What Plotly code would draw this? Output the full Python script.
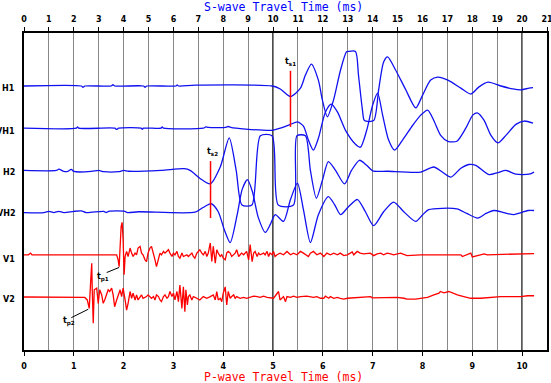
import numpy as np
import plotly.graph_objects as go

# ---------------- data (times in ms, amplitudes in display units) ----------------
# Blue traces: S-wave time axis (top)
H1_t = [0, 2.3, 2.37, 2.45, 3.5, 3.57, 3.65, 4.8, 4.86, 4.93, 6.1, 6.15, 6.2, 6.87, 9.97, 10.29, 10.70,
        11.10, 11.30, 11.54, 11.82, 11.98, 12.18, 12.43, 12.71, 12.95, 13.03, 13.31, 13.43, 13.59, 13.67,
        14.04, 14.24, 14.44, 14.60, 14.92, 15.33, 15.73, 16.01, 16.33, 16.61, 17.02, 17.54, 17.94, 18.27,
        18.63, 19.15, 19.63, 19.96, 20.28, 20.44]
H1_a = [0, 0, -0.3, 0, 0, 0.3, 0, 0, -0.3, 0, 0, 0.25, 0, 0.2, 0, -0.7, -2.5,
        -0.5, 2.6, 5.2, 1.4, -3.3, -7.3, -3.3, 3.8, 8.1, 8.2, 8.2, 2.6, -5.7, -8.2,
        -8.2, -0.9, 5.7, 6.9, 3.8, -0.9, -5.2, -2.1, 1.4, 2.1, 1.4, -0.5, -1.9, -0.2,
        0.9, 0, -0.7, -0.9, -0.5, -0.4]

VH1_t = [0, 2.1, 2.15, 2.2, 3.65, 3.72, 3.8, 4.7, 4.75, 4.8, 5.5, 5.55, 5.6, 7.2, 7.3, 7.4, 8.1, 8.2, 8.3,
         8.9, 9.97, 10.29, 10.70, 10.98, 11.22, 11.42, 11.62, 11.82, 12.10, 12.34, 12.59, 12.91, 13.31,
         13.51, 13.76, 14.00, 14.20, 14.40, 14.64, 14.88, 15.20, 15.61, 15.93, 16.21, 16.45, 16.73, 17.02,
         17.38, 17.74, 18.02, 18.22, 18.47, 18.75, 19.03, 19.35, 19.75, 20.08, 20.44]
VH1_a = [0, 0, 0.3, 0, 0, -0.3, 0, 0, -0.3, 0, 0, 0.3, 0, 0, 0.3, 0.2, 0.2, 0.4, 0.2,
         -0.2, -0.5, 0, 0.9, 1.5, 0.5, -2.8, -5.2, -2.4, 3.8, 5.7, 3.8, -0.5, -3.8,
         -4.5, -0.5, 5.5, 8.3, 3.1, -2.8, -5.2, -2.8, 0.7, 3.1, 4.3, 1.9, -1.7, -3.1,
         -3.1, 0, 3.1, 3.6, 1.9, -1.7, -3.5, -1.7, 0.9, 1.7, 1.2]

H2_t = [0, 1.3, 1.4, 1.6, 1.75, 1.9, 2.0, 2.7, 3.0, 3.2, 3.8, 4.0, 4.2, 5.5, 6.43, 6.67, 7.07, 7.48, 7.88,
        8.24, 8.52, 8.75, 9.15, 9.49, 9.96, 10.21, 10.82, 10.96, 11.30, 11.50, 11.74, 11.98, 12.22, 12.51,
        12.87, 13.15, 13.47, 13.76, 14.00, 14.60, 15.93, 16.45, 16.82, 17.14, 17.54, 17.86, 18.14, 18.67,
        19.03, 19.35, 19.75, 20.28, 20.48]
H2_a = [0, 0, 0.3, -0.25, -0.25, 0.25, -0.25, -0.25, 0, -0.3, -0.3, 0, -0.2, 0, 0.4, 0, -1.9, -3.2, 0.8,
        7.7, 0, -8.2, -8.2, 8.2, 8.2, -8.2, -8.2, 8.2, 8.2, 0, -6.6, -2.4, 2.1, 0,
        -3.2, 0, 2.4, 1.2, -0.1, -0.2, -0.4, 0.8, -0.5, -1.6, 0.5, 1.4, 1.2, -1.0,
        -0.5, 0, -0.9, -0.9, -0.4]

VH2_t = [0, 0.8, 1.0, 1.2, 1.4, 1.6, 2.0, 2.3, 2.5, 3.2, 3.3, 3.4, 4.05, 4.15, 4.6, 6.87, 7.19, 7.52,
         7.80, 8.04, 8.28, 8.56, 8.76, 8.97, 9.17, 9.41, 9.69, 9.89, 10.09, 10.42, 10.70, 10.98, 11.22,
         11.50, 11.82, 12.22, 12.47, 12.71, 13.03, 13.39, 13.71, 14.04, 14.44, 14.84, 15.25, 15.73, 16.01,
         16.25, 17.38, 17.78, 18.22, 18.55, 18.87, 19.27, 19.67, 19.96, 20.24, 20.48]
VH2_a = [0, 0, 0.3, 0, 0.3, 0, 0.3, 0.4, 0, 0.3, 0, 0.3, 0.3, 0, 0.2, 0.1, 1.2, 2.1,
         0.2, -4.0, -7.1, -0.5, 5.5, 7.8, 5.0, -1.2, -4.7, -2.8, -0.5, -2.1, 3.1, 7.0, 0.7,
         -7.1, -0.5, 3.8, 1.9, -0.5, 1.4, 3.1, 0.2, -3.1, 0.2, 2.5, 0.2, -2.1, -0.5,
         0.7, 0.9, -0.2, -1.3, -0.2, 0.5, 0, -0.5, 0, 0.5, 0.5]

# Red traces: P-wave time axis (bottom)
V1_t = [0, 0.09, 0.13, 0.16, 1.825, 1.86, 1.89, 1.91, 1.95, 1.97, 1.99, 2.01, 2.03, 2.06, 2.09, 2.13, 2.16,
        2.19, 2.23, 2.26, 2.29, 2.33, 2.36, 2.39, 2.43, 2.46, 2.49, 2.53, 2.56, 2.60, 2.63, 2.66, 2.70,
        2.73, 2.76, 2.80, 2.83, 2.87, 2.90, 2.93, 2.97, 3.00, 3.03, 3.07, 3.10, 3.13, 3.17, 3.20, 3.23,
        3.27, 3.30, 3.33, 3.37, 3.40, 3.43, 3.47, 3.50, 3.53, 3.57, 3.60, 3.64, 3.67, 3.70, 3.74, 3.77,
        3.80, 3.84, 3.87, 3.90, 3.94, 3.97, 4.00, 4.04, 4.07, 4.10, 4.14, 4.17, 4.21, 4.24, 4.27, 4.31,
        4.34, 4.37, 4.41, 4.47, 4.51, 4.54, 4.58, 4.61, 4.64, 4.68, 4.71, 4.74, 4.81, 4.84, 4.88, 4.91,
        4.94, 4.98, 5.01, 5.04, 5.08, 5.14, 5.21, 5.28, 5.35, 5.41, 5.48, 5.55, 5.61, 5.65, 5.71, 5.75,
        5.81, 5.88, 5.95, 6.02, 6.08, 6.15, 6.22, 6.29, 6.35, 6.42, 6.49, 6.55, 6.59, 6.62, 6.69, 6.75,
        6.82, 6.95, 7.02, 7.09, 7.16, 7.22, 7.29, 7.36, 7.42, 7.56, 7.63, 7.69, 7.96, 8.77, 8.80, 8.97,
        9.00, 9.10, 9.24, 9.30, 9.71, 9.91, 9.97, 10.24]
V1_a = [0, 0, 0.4, 0, 0, 0, -1.2, -2.8, 6.7, 7.7, 3.6, -4.7, -0.4, 0.8, -0.4, 1.6, 0.4,
        -0.4, 0.4, 0, 1.6, 2.0, 0.4, 0, -1.2, -1.6, 0.4, 1.6, 2.0, 0.4, -1.2, -2.8, -0.8,
        0.4, 0, 0.8, 0.4, 0.8, 1.2, 0.4, -0.4, 0.4, 0, 0.8, -0.4, -0.8, 0.4, -0.4, -0.2,
        0, -0.4, 0, 0.4, -0.4, -0.8, 0.4, 0.8, 1.2, 0.4, 0, 0.8, -0.4, 0.4, 2.8, -1.6,
        2.0, -2.0, 1.2, 0.4, -0.4, 0, -0.8, -1.2, 0.4, 0.8, 0.4, -0.4, 0, 0.4, 1.2, -0.4,
        0, 0.4, 0, 0.8, -1.2, 2.4, -1.6, 0.4, 0.8, -0.4, 0.4, 0, 0.4, 0, 0.8, -0.4,
        0.4, 0, 0.8, -0.4, 0, 0.4, 0, 0.8, 0, 0.4, 0, 0.8, 0.4, 0, -0.4, 0.4,
        0.8, 0, 0.4, -0.4, 0.4, 0, 0.4, 0, 0.4, -0.2, 0, 0.4, 0.7, 0, 0.8, 0.4,
        0.2, 0.4, -0.2, 0.2, 0.4, 0, 0.4, 0.2, 0, 0.4, 0, -0.2, 0, 0, -0.4, 0.4,
        -0.5, -0.2, 0.2, 0, 0.2, 0.2, 0.3, 0.3]

V2_t = [0, 1.22, 1.27, 1.31, 1.34, 1.36, 1.37, 1.39, 1.41, 1.46, 1.49, 1.52, 1.56, 1.59, 1.62, 1.66, 1.69,
        1.72, 1.76, 1.79, 1.82, 1.86, 1.89, 1.93, 1.96, 1.99, 2.03, 2.06, 2.09, 2.13, 2.16, 2.19, 2.23,
        2.26, 2.29, 2.33, 2.36, 2.39, 2.46, 2.49, 2.53, 2.56, 2.60, 2.63, 2.66, 2.70, 2.73, 2.76, 2.80,
        2.83, 2.87, 2.90, 2.93, 2.97, 3.00, 3.03, 3.07, 3.10, 3.13, 3.17, 3.20, 3.23, 3.25, 3.28, 3.30,
        3.33, 3.37, 3.40, 3.47, 3.53, 3.60, 3.67, 3.74, 3.80, 3.84, 3.87, 3.90, 3.94, 3.97, 4.00, 4.04,
        4.07, 4.10, 4.14, 4.17, 4.21, 4.24, 4.27, 4.34, 4.41, 4.47, 4.54, 4.61, 4.68, 4.74, 4.81, 4.88,
        5.01, 5.11, 5.14, 5.18, 5.21, 5.25, 5.28, 5.35, 5.41, 5.48, 5.55, 5.68, 5.81, 5.88, 5.95, 6.02,
        6.05, 6.12, 6.15, 6.22, 6.29, 6.35, 6.42, 6.49, 6.69, 6.96, 6.99, 7.29, 7.49, 7.63, 7.69, 7.86,
        7.96, 8.10, 8.23, 8.33, 8.36, 8.43, 8.53, 8.60, 8.70, 8.83, 8.97, 9.17, 9.27, 9.44, 9.57, 9.97,
        10.11, 10.24]
V2_a = [0, -0.1, -0.7, -2.7, 4.0, 8.0, 1.7, -6.2, 1.7, 2.1, -1.5, 1.7, 0.5, -1.5, -0.7, 0.9, 1.7,
        1.3, 2.1, 0.5, -2.3, -0.7, 0.5, 1.7, 0.1, 2.1, -0.7, -3.1, -1.5, 1.3, -0.3, 0.9, -0.7,
        0.5, -0.7, 0.1, 0.5, -0.3, 0.1, 0.5, 0.1, -0.3, 0.1, -0.7, 0.5, 0.1, -0.7, -1.1, 0.1,
        0.5, -0.3, 0.1, 1.3, 0.1, 0.9, -0.7, 1.3, -1.1, 2.8, -2.7, 2.4, -3.5, 1.7, -1.9, 0.1,
        0.5, -0.7, 0.1, -0.3, -0.7, 0.1, -0.3, 0.1, 0.5, -0.7, 1.3, -0.7, -0.3, -1.1, 0.9, 2.4,
        -1.9, 1.3, -0.3, 0.1, 0.5, -0.3, 0.1, -0.3, -0.1, -0.3, -0.1, 0.2, 0.1, -0.1, 0.2, -0.1,
        -0.3, 1.3, -0.7, -0.3, 0.1, -1.1, 0.1, -0.1, 0.2, -0.1, 0.1, 0.2, -0.1, 0.1, -0.3, -0.3,
        0.2, -0.3, 0.1, -0.3, -0.1, -0.3, -0.5, -0.3, -0.1, 0.1, -0.2, -0.1, -0.1, -0.3, -0.5, -0.5,
        -0.3, -0.1, 0.5, 0.9, 1.3, 1.0, 1.3, 0.9, 0.5, 0.1, -0.3, -0.3, -0.2, -0.1, 0.1, 0.1,
        0.3, 0.3]

TRACE_NAMES = ["H1", "VH1", "H2", "VH2", "V1", "V2"]
S_TICKS = list(range(0, 22))
P_TICKS = list(range(0, 11))

# ---------------- styling ----------------
BLUE = "#1010F0"
RED = "#FF0000"
GAIN = 0.1
OFFSETS = {"H1": 6, "VH1": 5, "H2": 4, "VH2": 3, "V1": 2, "V2": 1}
YR = [-0.256, 7.256]
TICKFONT = dict(family="DejaVu Sans", size=8, color="black", weight="bold")

fig = go.Figure()
blue = {"H1": (H1_t, H1_a), "VH1": (VH1_t, VH1_a), "H2": (H2_t, H2_a), "VH2": (VH2_t, VH2_a)}
red = {"V1": (V1_t, V1_a), "V2": (V2_t, V2_a)}

for name, (t, a) in blue.items():
    fig.add_trace(go.Scatter(x=t, y=OFFSETS[name] + GAIN * np.array(a), xaxis="x2", yaxis="y",
                             mode="lines", line=dict(color=BLUE, width=1.3, shape="spline", smoothing=0.7),
                             showlegend=False, hoverinfo="skip"))
for name, (t, a) in red.items():
    fig.add_trace(go.Scatter(x=t, y=OFFSETS[name] + GAIN * np.array(a), xaxis="x", yaxis="y",
                             mode="lines", line=dict(color=RED, width=1.3),
                             showlegend=False, hoverinfo="skip"))

shapes = []
for s in (10, 20):
    shapes.append(dict(type="line", xref="x2", yref="paper", x0=s, x1=s, y0=0, y1=1,
                       line=dict(color="black", width=1.5), layer="below"))
shapes.append(dict(type="line", xref="x2", yref="y", x0=10.70, x1=10.70, y0=5.03, y1=6.36,
                   line=dict(color=RED, width=1.5)))
shapes.append(dict(type="line", xref="x2", yref="y", x0=7.49, x1=7.49, y0=2.87, y1=4.22,
                   line=dict(color=RED, width=1.5)))
shapes.append(dict(type="line", xref="x", yref="y", x0=1.66, x1=1.91, y0=1.58, y1=1.70,
                   line=dict(color="black", width=1)))
shapes.append(dict(type="line", xref="x", yref="y", x0=0.95, x1=1.29, y0=0.51, y1=0.71,
                   line=dict(color="black", width=1)))

ann = []
lab_font = dict(family="DejaVu Sans", size=8, color="black", weight="bold")
label_y = {"H1": -0.07, "VH1": -0.07, "H2": -0.05, "VH2": -0.03, "V1": -0.1, "V2": -0.06}
for name in TRACE_NAMES:
    ann.append(dict(x=-0.0125, xref="paper", y=OFFSETS[name] + label_y[name], yref="y", text=name,
                    showarrow=False, xanchor="right", yanchor="middle", font=lab_font))
for txt, xv, yv, xr in [("t<sub>s1</sub>", 10.70, 6.57, "x2"), ("t<sub>s2</sub>", 7.57, 4.44, "x2"),
                        ("t<sub>p1</sub>", 1.59, 1.47, "x"), ("t<sub>p2</sub>", 0.905, 0.42, "x")]:
    ann.append(dict(x=xv, xref=xr, y=yv, yref="y", text=txt, showarrow=False,
                    xanchor="center", yanchor="middle", font=lab_font))
TITLE_FONT = "DejaVu Sans Mono"
ann.append(dict(x=0.4965, xref="paper", y=1.082, yref="paper", text="S-wave Travel Time (ms)",
                showarrow=False, xanchor="center", yanchor="middle",
                font=dict(family=TITLE_FONT, size=11.5, color="#0000FF")))
ann.append(dict(x=0.4965, xref="paper", y=-0.084, yref="paper", text="P-wave Travel Time (ms)",
                showarrow=False, xanchor="center", yanchor="middle",
                font=dict(family=TITLE_FONT, size=11.5, color=RED)))

fig.update_layout(
    width=551, height=383,
    margin=dict(l=24, r=4, t=33, b=33, autoexpand=False),
    paper_bgcolor="white", plot_bgcolor="white",
    xaxis=dict(range=[0, 10.5], tickvals=P_TICKS, ticks="outside", ticklen=4, tickcolor="black",
               showline=True, linecolor="black", linewidth=2, showgrid=False, zeroline=False,
               tickfont=TICKFONT, ticklabelstandoff=3, automargin=False,
               ticklabeloverflow="allow"),
    xaxis2=dict(range=[0, 21], tickvals=S_TICKS, overlaying="x", side="top", anchor="y",
                ticks="outside", ticklen=4, tickcolor="black", showline=True, linecolor="black",
                linewidth=2, showgrid=True, gridcolor="#888888", gridwidth=1, zeroline=False,
                tickfont=TICKFONT, ticklabelstandoff=2, automargin=False,
                ticklabeloverflow="allow"),
    yaxis=dict(range=YR, showticklabels=False, showgrid=False, zeroline=False, ticks="",
               showline=True, mirror=True, linecolor="black", linewidth=1.5, automargin=False),
    shapes=shapes, annotations=ann,
)

fig.write_html("out.html", config={"displayModeBar": False},
               post_script="document.body.style.margin='0';document.body.style.overflow='hidden';")
